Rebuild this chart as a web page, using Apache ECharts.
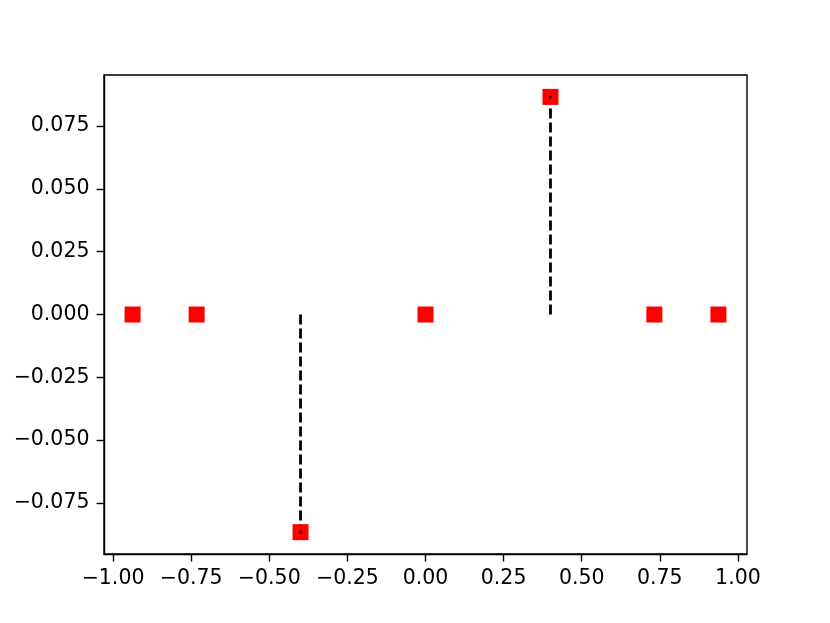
<!DOCTYPE html>
<html>
<head>
<meta charset="utf-8">
<script src="https://cdn.jsdelivr.net/npm/echarts@6/dist/echarts.min.js"></script>
<style>
  html, body { margin: 0; padding: 0; background: #fff; }
  #chart { width: 830px; height: 623px; }
</style>
</head>
<body>
<div id="chart"></div>
<script>
// points
const pointX = [-0.9375, -0.7325, -0.4, 0, 0.4, 0.7325, 0.9375];
const pointY = [0, 0, -0.0866, 0, 0.0866, 0, 0];
// dashed stems
const stemX = [-0.4, 0.4];
const stemY = [-0.0866, 0.0866];
// tick values
const xTicks = [-1, -0.75, -0.5, -0.25, 0, 0.25, 0.5, 0.75, 1];
const yTicks = [-0.075, -0.05, -0.025, 0, 0.025, 0.05, 0.075];

function fmt(v, d) {
  const s = Math.abs(v).toFixed(d);
  return v < 0 ? "\u2212" + s : s;
}

const chart = echarts.init(document.getElementById("chart"));
const font = "DejaVu Sans";

chart.setOption({
  animation: false,
  grid: {
    left: 104,
    right: 83,
    top: 75,
    bottom: 69,
    show: true,
    borderColor: "#000",
    borderWidth: 1.4,
  },
  xAxis: {
    type: "value",
    min: -1.029,
    max: 1.029,
    splitLine: { show: false },
    axisLine: { show: true, onZero: false, lineStyle: { color: "#000", width: 1.4 } },
    axisTick: {
      show: true,
      length: 7.5,
      customValues: xTicks,
      lineStyle: { color: "#000", width: 1.4 },
    },
    axisLabel: {
      customValues: xTicks,
      color: "#000",
      fontFamily: font,
      fontSize: 20.5,
      margin: 14.5,
      formatter: (v) => fmt(v, 2),
    },
  },
  yAxis: {
    type: "value",
    min: -0.0953,
    max: 0.0953,
    splitLine: { show: false },
    axisLine: { show: true, onZero: false, lineStyle: { color: "#000", width: 1.4 } },
    axisTick: {
      show: true,
      length: 7.5,
      customValues: yTicks,
      lineStyle: { color: "#000", width: 1.4 },
    },
    axisLabel: {
      customValues: yTicks,
      color: "#000",
      fontFamily: font,
      fontSize: 20.5,
      margin: 14.5,
      formatter: (v) => fmt(v, 3),
    },
  },
  series: [
    {
      type: "custom",
      z: 1,
      data: stemX.map((x, i) => [x, stemY[i]]),
      renderItem: function (params, api) {
        const p0 = api.coord([api.value(0), 0]);
        const p1 = api.coord([api.value(0), api.value(1)]);
        return {
          type: "line",
          shape: { x1: p0[0], y1: p0[1], x2: p1[0], y2: p1[1] },
          style: { stroke: "#000", lineWidth: 2.8, lineDash: [10, 4] },
        };
      },
    },
    {
      type: "scatter",
      z: 2,
      symbol: "rect",
      symbolSize: 16,
      itemStyle: { color: "#ff0000", opacity: 1 },
      data: pointX.map((x, i) => [x, pointY[i]]),
    },
    {
      type: "scatter",
      z: 3,
      symbol: "rect",
      symbolSize: 3,
      itemStyle: { color: "#000" },
      data: stemX.map((x, i) => [x, stemY[i]]),
    },
  ],
});
</script>
</body>
</html>
